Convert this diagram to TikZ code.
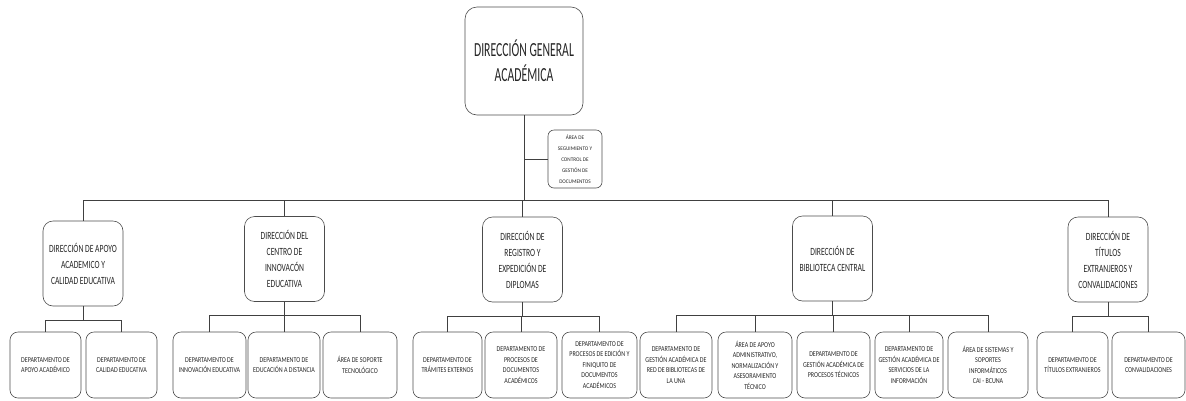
\documentclass[tikz,border=0pt]{standalone}
\usepackage{fontspec}
\setmainfont{Carlito}
\newfontfamily\ftop[FakeStretch=0.585]{Carlito}
\newfontfamily\fmid[FakeStretch=0.69]{Carlito}
\newfontfamily\flow[FakeStretch=0.8]{Carlito}
\newfontfamily\fseg[FakeStretch=0.95]{Carlito}
\begin{document}
\begin{tikzpicture}[x=1pt,y=-1pt,
 box/.style={draw=black!70, line width=0.6pt, align=center, inner sep=0pt, text=black!85},
 topbox/.style={box, rounded corners=12pt, font=\ftop\fontsize{20}{25}\selectfont, minimum width=118pt, minimum height=108pt},
 midbox/.style={box, rounded corners=10pt, font=\fmid\fontsize{11}{16}\selectfont, minimum width=80pt, minimum height=85pt},
 lowbox/.style={box, rounded corners=8pt, font=\flow\fontsize{7.5}{10.5}\selectfont, minimum height=66pt},
 segbox/.style={box, rounded corners=6pt, font=\fseg\fontsize{5.5}{11}\selectfont, minimum width=54pt, minimum height=58pt},
 conn/.style={draw=black!75, line width=0.6pt}]
\useasboundingbox (0,0) rectangle (1186,400);

\node[topbox] (top) at (524,61) {DIRECCIÓN GENERAL\\ACADÉMICA};
\node[segbox] (seg) at (575,159) {ÁREA DE\\SEGUIMIENTO Y\\CONTROL DE\\GESTIÓN DE\\DOCUMENTOS};

\node[midbox] (La) at (83,263.5) {DIRECCIÓN DE APOYO\\ACADEMICO Y\\CALIDAD EDUCATIVA};
\node[midbox] (Lb) at (284.5,259) {DIRECCIÓN DEL\\CENTRO DE\\INNOVACÓN\\EDUCATIVA};
\node[midbox] (Lc) at (522.5,259.5) {DIRECCIÓN DE\\REGISTRO Y\\EXPEDICIÓN DE\\DIPLOMAS};
\node[midbox] (Ld) at (832.5,258.5) {DIRECCIÓN DE\\BIBLIOTECA CENTRAL};
\node[midbox] (Le) at (1108,259.5) {DIRECCIÓN DE\\TÍTULOS\\EXTRANJEROS Y\\CONVALIDACIONES};

\node[lowbox, minimum width=71pt] (a1) at (45.5,365) {DEPARTAMENTO DE\\APOYO ACADÉMICO};
\node[lowbox, minimum width=71pt] (a2) at (121.5,365) {DEPARTAMENTO DE\\CALIDAD EDUCATIVA};
\node[lowbox, minimum width=73pt] (b1) at (209.5,365) {DEPARTAMENTO DE\\INNOVACIÓN EDUCATIVA};
\node[lowbox, minimum width=72pt] (b2) at (284,365) {DEPARTAMENTO DE\\EDUCACIÓN A DISTANCIA};
\node[lowbox, minimum width=74pt] (b3) at (360,365) {ÁREA DE SOPORTE\\TECNOLÓGICO};
\node[lowbox, minimum width=69pt] (c1) at (447.5,365) {DEPARTAMENTO DE\\TRÁMITES EXTERNOS};
\node[lowbox, minimum width=72pt] (c2) at (521,365) {DEPARTAMENTO DE\\PROCESOS DE\\DOCUMENTOS\\ACADÉMICOS};
\node[lowbox, minimum width=75pt] (c3) at (599.5,365) {DEPARTAMENTO DE\\PROCESOS DE EDICIÓN Y\\FINIQUITO DE\\DOCUMENTOS\\ACADÉMICOS};
\node[lowbox, minimum width=72pt] (d1) at (676,365) {DEPARTAMENTO DE\\GESTIÓN ACADÉMICA DE\\RED DE BIBLIOTECAS DE\\LA UNA};
\node[lowbox, minimum width=74pt] (d2) at (755,365) {ÁREA DE APOYO\\ADMINISTRATIVO,\\NORMALIZACIÓN Y\\ASESORAMIENTO\\TÉCNICO};
\node[lowbox, minimum width=73pt] (d3) at (833.5,365) {DEPARTAMENTO DE\\GESTIÓN ACADÉMICA DE\\PROCESOS TÉCNICOS};
\node[lowbox, minimum width=68pt] (d4) at (909,365) {DEPARTAMENTO DE\\GESTIÓN ACADÉMICA DE\\SERVICIOS DE LA\\INFORMACIÓN};
\node[lowbox, minimum width=80pt] (d5) at (988,365) {ÁREA DE SISTEMAS Y\\SOPORTES\\INFORMÁTICOS\\CAI - BCUNA};
\node[lowbox, minimum width=71pt] (e1) at (1072.5,365) {DEPARTAMENTO DE\\TÍTULOS EXTRANJEROS};
\node[lowbox, minimum width=73pt] (e2) at (1148.5,365) {DEPARTAMENTO DE\\CONVALIDACIONES};

\coordinate (bus) at (0,200);
\foreach \n in {La,Lb,Lc,Ld,Le}
  \draw[conn] (top.south) -- (top.south |- bus) -| (\n.north);
\draw[conn] (seg.west) -- (seg.west -| top.south);

\foreach \p/\c in {La/a1,La/a2,Lb/b1,Lb/b2,Lb/b3,Lc/c1,Lc/c2,Lc/c3,Ld/d1,Ld/d2,Ld/d3,Ld/d4,Ld/d5,Le/e1,Le/e2}
  \draw[conn] (\p.south) -- ++(0,13.5) -| (\c.north);
\end{tikzpicture}
\end{document}
